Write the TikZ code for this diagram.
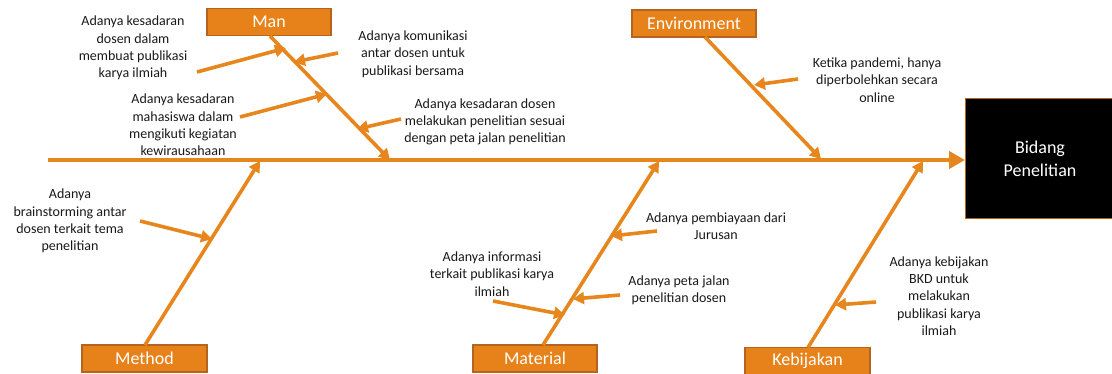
\documentclass[tikz,border=0pt]{standalone}
\usepackage{fontspec}
\setmainfont{Carlito}
\usetikzlibrary{arrows.meta}
\definecolor{bone}{RGB}{232,134,30}
\definecolor{boxfill}{RGB}{230,130,25}
\definecolor{boxedge}{RGB}{180,100,30}
\tikzset{
  catbox/.style={draw=boxedge, line width=1.2pt, fill=boxfill, minimum width=124pt, minimum height=27pt, inner sep=0pt, text=white, font=\fontsize{18}{21}\selectfont},
  cause/.style={align=center, inner sep=0pt, font=\fontsize{14}{17.3}\selectfont, text=black!90},
  subarrow/.style={draw=bone, line width=3.6pt, -{Triangle[length=11pt,width=12pt]}},
  spinearrow/.style={draw=bone, line width=4pt, -{Triangle[length=16pt,width=17pt]}},
}
\begin{document}
\begin{tikzpicture}[x=1pt,y=-1pt]
\useasboundingbox (0,0) rectangle (1112,374);
% effect
\node[draw=boxedge, line width=1.2pt, fill=black, minimum width=150pt, minimum height=120pt, anchor=north west, inner sep=0pt] (effect) at (965,98) {};
\node[align=center, text=white, font=\fontsize{18}{23}\selectfont] (efftext) at (1040,159) {Bidang\\Penelitian};
% spine
\coordinate (tail) at (48,160);
\coordinate (head) at (965,160);
\draw[spinearrow] (tail) -- (head);
% category boxes
\node[catbox] (man) at (269,22) {Man};
\node[catbox] (env) at (694,23.5) {Environment};
\node[catbox, minimum width=125pt] (method) at (144.5,358.5) {Method};
\node[catbox] (material) at (535,358.5) {Material};
\node[catbox, minimum width=125pt] (kebijakan) at (807.5,361) {Kebijakan};
% bone endpoints
\coordinate (manS) at (270,36);
\coordinate (manE) at (390,160);
\coordinate (envS) at (705,37);
\coordinate (envE) at (821,159);
\coordinate (metS) at (145,345);
\coordinate (metE) at (260,161);
\coordinate (matS) at (543,345);
\coordinate (matE) at (659,161);
\coordinate (kebS) at (808,347.5);
\coordinate (kebE) at (923,161);
\draw[subarrow] (manS) -- (manE);
\draw[subarrow] (envS) -- (envE);
\draw[subarrow] (metS) -- (metE);
\draw[subarrow] (matS) -- (matE);
\draw[subarrow] (kebS) -- (kebE);
% cause texts
\node[cause] (c1) at (133,48) {Adanya kesadaran\\dosen dalam\\membuat publikasi\\karya ilmiah};
\node[cause] (c2) at (413,54) {Adanya komunikasi\\antar dosen untuk\\publikasi bersama};
\node[cause] (c3) at (183,125) {Adanya kesadaran\\mahasiswa dalam\\mengikuti kegiatan\\kewirausahaan};
\node[cause] (c4) at (485,122) {Adanya kesadaran dosen\\melakukan penelitian sesuai\\dengan peta jalan penelitian};
\node[cause] (c5) at (877,80) {Ketika pandemi, hanya\\diperbolehkan secara\\online};
\node[cause] (c6) at (70,221) {Adanya\\brainstorming antar\\dosen terkait tema\\penelitian};
\node[cause] (c7) at (716,226) {Adanya pembiayaan dari\\Jurusan};
\node[cause] (c8) at (492,274) {Adanya informasi\\terkait publikasi karya\\ilmiah};
\node[cause] (c9) at (679,290) {Adanya peta jalan\\penelitian dosen};
\node[cause] (c10) at (939,296) {Adanya kebijakan\\BKD untuk\\melakukan\\publikasi karya\\ilmiah};
% cause arrows
\coordinate (a1s) at (197,72);  \coordinate (a1e) at (286,48);
\coordinate (a2s) at (338,53);  \coordinate (a2e) at (294,62);
\coordinate (a3s) at (240,117); \coordinate (a3e) at (327,94);
\coordinate (a4s) at (401,119); \coordinate (a4e) at (357,129);
\coordinate (a5s) at (798,79);  \coordinate (a5e) at (754,85);
\coordinate (a6s) at (140,221); \coordinate (a6e) at (212,239);
\coordinate (a7s) at (657,231); \coordinate (a7e) at (611,236);
\coordinate (a8s) at (620,295); \coordinate (a8e) at (573,299);
\coordinate (a9s) at (493,301); \coordinate (a9e) at (565,315);
\coordinate (a10s) at (876,302); \coordinate (a10e) at (835,305);
\foreach \i in {1,...,10} {\draw[subarrow] (a\i s) -- (a\i e);}
\end{tikzpicture}
\end{document}
